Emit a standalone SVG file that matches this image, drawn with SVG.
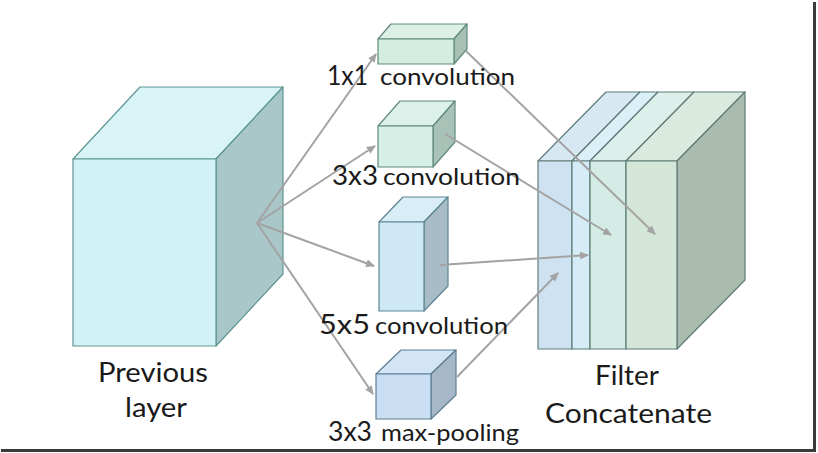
<svg xmlns="http://www.w3.org/2000/svg" width="818" height="453" viewBox="0 0 818 453">
<style>
.edge{stroke-width:1.2;stroke-linejoin:round}
.lbl{font-family:Lato,"Open Sans","Liberation Sans",sans-serif;fill:#1a1a1a}
.conn line{stroke:#a3a3a3;stroke-width:2;fill:none}
</style>
<defs>
<marker id="ah" markerUnits="userSpaceOnUse" markerWidth="10" markerHeight="8" refX="8" refY="4" orient="auto">
<path d="M0,0 L9,4 L0,8 z" fill="#a3a3a3"/>
</marker>
</defs>
<rect width="818" height="453" fill="#ffffff"/>

<g id="previous-layer" class="edge" stroke="#5f9592">
<polygon points="73,159 140,87 283,87 216,159" fill="#d9f4f7"/>
<polygon points="216,159 283,87 283,274 216,346" fill="#a9c6c8"/>
<rect x="73" y="159" width="143" height="187" fill="#d2f2f6"/>
</g>

<g id="conv1x1" class="edge" stroke="#5f8a7b">
<polygon points="378,39 391,24 467,24 454,39" fill="#dcf0e6"/>
<polygon points="454,39 467,24 467,49 454,64" fill="#a9c0b4"/>
<rect x="378" y="39" width="76" height="25" fill="#d5ece1"/>
</g>

<g id="conv3x3" class="edge" stroke="#5f8a7b">
<polygon points="378,126 400,101 455,101 433,126" fill="#dcf1ea"/>
<polygon points="433,126 455,101 455,142 433,167" fill="#a9c2b8"/>
<rect x="378" y="126" width="55" height="41" fill="#d5efe6"/>
</g>

<g id="conv5x5" class="edge" stroke="#5d8593">
<polygon points="379,222 403,197 448,197 424,222" fill="#d8edf7"/>
<polygon points="424,222 448,197 448,286 424,311" fill="#a8bcc8"/>
<rect x="379" y="222" width="45" height="89" fill="#cfe8f5"/>
</g>

<g id="maxpool3x3" class="edge" stroke="#5d7f93">
<polygon points="376,374 401,350 456,350 431,374" fill="#d3e5f4"/>
<polygon points="431,374 456,350 456,395 431,419" fill="#a6b7c7"/>
<rect x="376" y="374" width="55" height="45" fill="#c9def2"/>
</g>

<g id="filter-concat" class="edge" stroke="#5e7d78">
<polygon points="538,161 606,92 640,92 572,161" fill="#d7e8f3"/>
<polygon points="572,161 640,92 658,92 590,161" fill="#dbeff7"/>
<polygon points="590,161 658,92 694,92 626,161" fill="#dcefea"/>
<polygon points="626,161 694,92 745,92 677,161" fill="#dbeadf"/>
<polygon points="677,161 745,92 745,280 677,349" fill="#aabcb0"/>
<rect x="538" y="161" width="34" height="188" fill="#cfe2f1"/>
<rect x="572" y="161" width="18" height="188" fill="#d5ebf5"/>
<rect x="590" y="161" width="36" height="188" fill="#d5ece6"/>
<rect x="626" y="161" width="51" height="188" fill="#d3e6d7"/>
</g>

<g id="connectors" class="conn">
<line x1="257" y1="223" x2="376" y2="54" marker-end="url(#ah)"/>
<line x1="257" y1="223" x2="375" y2="146" marker-end="url(#ah)"/>
<line x1="257" y1="223" x2="374" y2="266" marker-end="url(#ah)"/>
<line x1="257" y1="223" x2="373" y2="394" marker-end="url(#ah)"/>
<line x1="466" y1="51" x2="655" y2="234" marker-end="url(#ah)"/>
<line x1="445" y1="134" x2="611" y2="235" marker-end="url(#ah)"/>
<line x1="440" y1="265" x2="588" y2="255" marker-end="url(#ah)"/>
<line x1="457" y1="377" x2="558" y2="273" marker-end="url(#ah)"/>
</g>

<g id="labels" class="lbl">
<text y="85"><tspan x="327" font-size="27" textLength="41" lengthAdjust="spacingAndGlyphs">1x1</tspan><tspan x="380" font-size="23" textLength="135" lengthAdjust="spacingAndGlyphs">convolution</tspan></text>
<text y="185"><tspan x="332" font-size="27" textLength="46" lengthAdjust="spacingAndGlyphs">3x3</tspan><tspan x="383" font-size="23" textLength="137" lengthAdjust="spacingAndGlyphs">convolution</tspan></text>
<text y="334"><tspan x="319" font-size="27" textLength="51" lengthAdjust="spacingAndGlyphs">5x5</tspan><tspan x="375" font-size="23" textLength="133" lengthAdjust="spacingAndGlyphs">convolution</tspan></text>
<text y="441"><tspan x="328" font-size="27" textLength="44" lengthAdjust="spacingAndGlyphs">3x3</tspan><tspan x="381" font-size="23" textLength="138" lengthAdjust="spacingAndGlyphs">max-pooling</tspan></text>
<text x="98" y="382" font-size="27" textLength="110" lengthAdjust="spacingAndGlyphs">Previous</text>
<text x="125" y="417" font-size="27" textLength="62" lengthAdjust="spacingAndGlyphs">layer</text>
<text x="595" y="385" font-size="27" textLength="64" lengthAdjust="spacingAndGlyphs">Filter</text>
<text x="545" y="423" font-size="27" textLength="167" lengthAdjust="spacingAndGlyphs">Concatenate</text>
</g>

<g id="frame" stroke="#3a3a3a" stroke-width="3" fill="none">
<line x1="814.5" y1="2" x2="814.5" y2="451"/>
<line x1="1" y1="450.5" x2="816" y2="450.5"/>
</g>
</svg>
